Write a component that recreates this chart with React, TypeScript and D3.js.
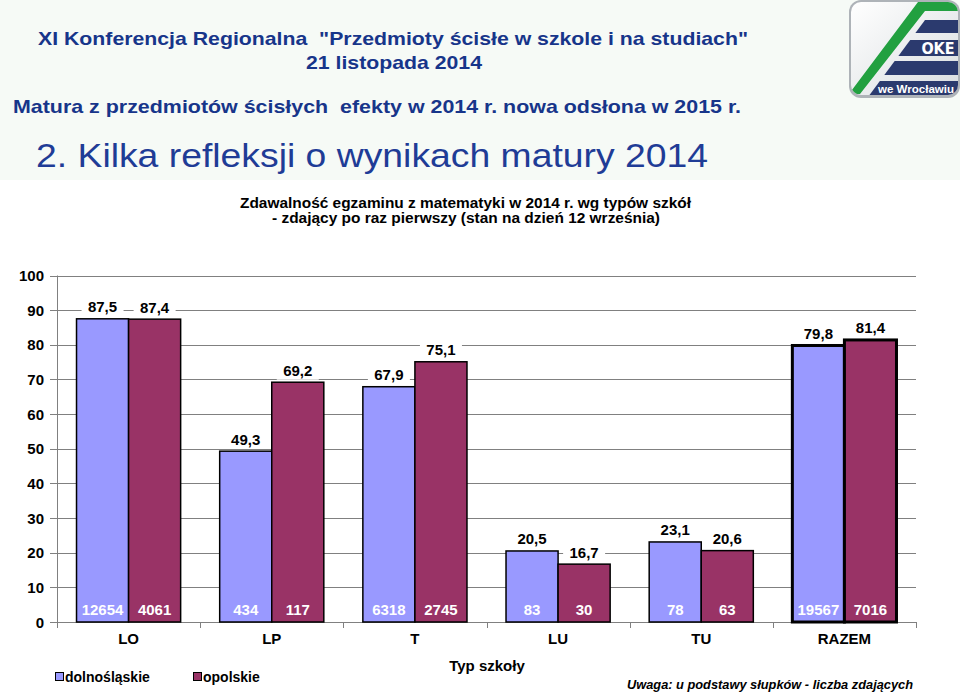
import React from "react";
import * as d3 from "d3";

const categories = ["LO", "LP", "T", "LU", "TU", "RAZEM"];
const seriesNames = ["dolnośląskie", "opolskie"];
const dolnoslaskie = [87.5, 49.3, 67.9, 20.5, 23.1, 79.8];
const opolskie = [87.4, 69.2, 75.1, 16.7, 20.6, 81.4];
const countDoln = [12654, 434, 6318, 83, 78, 19567];
const countOpol = [4061, 117, 2745, 30, 63, 7016];
const yTicks = [0, 10, 20, 30, 40, 50, 60, 70, 80, 90, 100];
const colors = ["#9999FF", "#993366"];

const W = 960;
const H = 692;
const FONT = "Liberation Sans, Arial, sans-serif";
const NAVY = "#17358a";

export default function App() {
  const x0 = d3.scaleBand<string>().domain(categories).range([57, 916]).padding(0);
  const x1 = d3
    .scaleBand<string>()
    .domain(seriesNames)
    .range([0, x0.bandwidth()])
    .paddingInner(0)
    .paddingOuter(0.375);
  const y = d3.scaleLinear().domain([0, 100]).range([622, 275.5]);
  const values = [dolnoslaskie, opolskie];
  const counts = [countDoln, countOpol];
  const fmt = (v: number) => d3.format(".1f")(v).replace(".", ",");

  const slant = (yy: number) => 871 + (93 - yy) * 0.74;
  const navyBars = [
    [20, 33],
    [40, 56],
    [61, 75],
    [81, 95],
  ];

  return (
    <svg width={W} height={H} style={{ display: "block", position: "absolute", left: 0, top: 0 }} fontFamily={FONT}>
      <defs>
        <linearGradient id="logoBg" x1="0" y1="0" x2="1" y2="1">
          <stop offset="0" stopColor="#ffffff" />
          <stop offset="1" stopColor="#d9dde0" />
        </linearGradient>
        <clipPath id="logoClip">
          <rect x={851} y={2} width={107} height={93} rx={10} />
        </clipPath>
      </defs>
      <rect x={0} y={0} width={W} height={H} fill="#ffffff" />
      <rect x={0} y={0} width={W} height={180} fill="#f6faf6" />

      {/* Header texts */}
      <g fill={NAVY} fontWeight="bold" fontSize={18.5}>
        <text x={393} y={45} textAnchor="middle" textLength={710} lengthAdjust="spacingAndGlyphs" style={{ whiteSpace: "pre" }}>
          {'XI Konferencja Regionalna  "Przedmioty ścisłe w szkole i na studiach"'}
        </text>
        <text x={394} y={69} textAnchor="middle" textLength={176} lengthAdjust="spacingAndGlyphs">
          21 listopada 2014
        </text>
        <text x={13} y={113} textLength={728} lengthAdjust="spacingAndGlyphs" style={{ whiteSpace: "pre" }}>
          {"Matura z przedmiotów ścisłych  efekty w 2014 r. nowa odsłona w 2015 r."}
        </text>
      </g>
      <text x={36} y={167} fill="#1f3c96" fontSize={34} textLength={672} lengthAdjust="spacingAndGlyphs">
        2. Kilka refleksji o wynikach matury 2014
      </text>

      {/* Logo */}
      <g>
        <rect x={849} y={0} width={111} height={98} rx={12} fill="#aeb3b8" />
        <rect x={851} y={2} width={107} height={93} rx={10} fill="url(#logoBg)" />
        <g clipPath="url(#logoClip)">
          {navyBars.map(([a, b], i) => (
            <polygon
              key={i}
              points={`${slant(a)},${a} 960,${a} 960,${b} ${slant(b)},${b}`}
              fill="#2b3a6e"
            />
          ))}
          <polygon points="849,94 918,2 960,2 960,11 925,11 860,94" fill="#22a040" />
        </g>
        <text x={938} y={54} fill="#ffffff" fontWeight="bold" fontSize={16} textAnchor="middle" fontFamily="DejaVu Sans Condensed, DejaVu Sans, sans-serif">OKE</text>
        <text x={916} y={92.5} fill="#ffffff" fontWeight="bold" fontSize={11} textAnchor="middle" textLength={76} lengthAdjust="spacingAndGlyphs">we Wrocławiu</text>
      </g>

      {/* Chart title */}
      <g fontWeight="bold" fontSize={14} fill="#000" textAnchor="middle">
        <text x={465.5} y={208} textLength={451} lengthAdjust="spacingAndGlyphs">Zdawalność egzaminu z matematyki w 2014 r. wg typów szkół</text>
        <text x={466} y={223} textLength={388} lengthAdjust="spacingAndGlyphs">- zdający po raz pierwszy (stan na dzień 12 września)</text>
      </g>

      {/* Gridlines */}
      <g stroke="#808080" strokeWidth={1}>
        {yTicks.map((t) => (
          <line key={t} x1={50} x2={916} y1={Math.round(y(t)) + 0.5} y2={Math.round(y(t)) + 0.5} />
        ))}
        <line x1={57.5} x2={57.5} y1={y(100)} y2={y(0)} />
        {categories.map((c) => (
          <line key={c} x1={Math.round(x0(c)!) + 0.5} x2={Math.round(x0(c)!) + 0.5} y1={y(0)} y2={y(0) + 6} />
        ))}
        <line x1={916.5} x2={916.5} y1={y(0)} y2={y(0) + 6} />
      </g>

      {/* Y tick labels */}
      <g fontWeight="bold" fontSize={15} fill="#000" textAnchor="end">
        {yTicks.map((t) => (
          <text key={t} x={44} y={y(t) + 5.5}>
            {t}
          </text>
        ))}
      </g>

      {/* Bars */}
      {categories.map((c, ci) => {
        const isTotal = c === "RAZEM";
        return (
          <g key={c}>
            {seriesNames.map((s, si) => {
              const v = values[si][ci];
              const bx = x0(c)! + x1(s)!;
              const bw = x1.bandwidth();
              return (
                <rect
                  key={s}
                  x={bx}
                  y={y(v)}
                  width={bw}
                  height={y(0) - y(v)}
                  fill={colors[si]}
                  stroke="#000"
                  strokeWidth={isTotal ? 3 : 1.5}
                />
              );
            })}
          </g>
        );
      })}

      {/* Value labels with white background */}
      {categories.map((c, ci) =>
        seriesNames.map((s, si) => {
          const v = values[si][ci];
          const cx = x0(c)! + x1(s)! + x1.bandwidth() / 2;
          const ty = y(v) - 6.5;
          return (
            <g key={c + s}>
              <rect x={cx - 21} y={ty - 13} width={42} height={17} fill="#ffffff" />
              <text x={cx} y={ty} textAnchor="middle" fontWeight="bold" fontSize={15} fill="#000">
                {fmt(v)}
              </text>
            </g>
          );
        })
      )}

      {/* Counts inside bars */}
      {categories.map((c, ci) =>
        seriesNames.map((s, si) => {
          const cx = x0(c)! + x1(s)! + x1.bandwidth() / 2;
          return (
            <text key={"n" + c + s} x={cx} y={614.5} textAnchor="middle" fontWeight="bold" fontSize={15} fill="#ffffff">
              {counts[si][ci]}
            </text>
          );
        })
      )}

      {/* Category labels */}
      <g fontWeight="bold" fontSize={15} fill="#000" textAnchor="middle">
        {categories.map((c) => (
          <text key={c} x={x0(c)! + x0.bandwidth() / 2} y={643.5}>
            {c}
          </text>
        ))}
      </g>

      <text x={487} y={671} textAnchor="middle" fontWeight="bold" fontSize={15} fill="#000">
        Typ szkoły
      </text>

      {/* Legend */}
      <g fontWeight="bold" fontSize={14} fill="#000">
        {seriesNames.map((s, i) => {
          const lx = i === 0 ? 55 : 193;
          return (
            <g key={s}>
              <rect x={lx + 0.5} y={672.5} width={8} height={8} fill={colors[i]} stroke="#000" strokeWidth={1} />
              <text x={lx + 10} y={682}>
                {s}
              </text>
            </g>
          );
        })}
      </g>

      <text x={627} y={689} fontWeight="bold" fontStyle="italic" fontSize={12.5} fill="#000" textLength={286} lengthAdjust="spacingAndGlyphs">
        Uwaga: u podstawy słupków - liczba zdających
      </text>
    </svg>
  );
}
